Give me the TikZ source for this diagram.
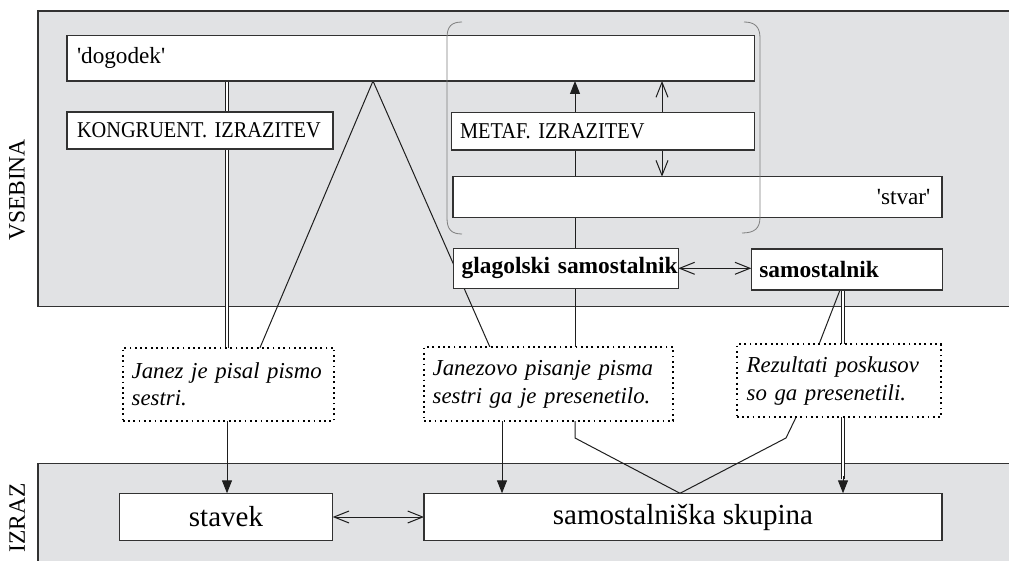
\documentclass[tikz,border=0pt]{standalone}
\usepackage{fontspec}
\setmainfont{Liberation Serif}
\newfontfamily\qf{Liberation Serif}
\newfontfamily\capsf{Liberation Serif}[FakeStretch=0.9]
\usetikzlibrary{arrows.meta}
\definecolor{regfill}{RGB}{225,226,228}
\definecolor{boxc}{RGB}{50,50,50}
\definecolor{linec}{RGB}{30,30,30}
\definecolor{brkc}{RGB}{125,125,125}
\pgfdeclarelayer{back}
\pgfdeclarelayer{mid}
\pgfdeclarelayer{front}
\pgfsetlayers{back,mid,main,front}
\begin{document}
\begin{tikzpicture}[x=1pt,y=-1pt,
  region/.style={draw=boxc, fill=regfill, line width=1.1pt},
  lab/.style={rotate=90, font=\fontsize{23.5}{28}\selectfont, inner sep=0pt},
  box/.style={draw=boxc, fill=white, line width=1.1pt, inner sep=0pt, outer sep=0pt, anchor=north west},
  dbox/.style={draw=black, fill=white, line width=1.8pt, dash pattern=on 1.8pt off 3.5pt, inner sep=0pt, outer sep=0pt, anchor=north west},
  conn/.style={draw=linec, line width=1pt},
  dbl/.style={draw=linec, line width=0.8pt, double=white, double distance=1.6pt},
  fa/.style={-{Triangle[length=13pt,width=10pt]}},
  oa/.style={-{Straight Barb[length=15pt,width=12pt]}},
  oaa/.style={{Straight Barb[length=15pt,width=12pt]}-{Straight Barb[length=15pt,width=12pt]}},
  brk/.style={draw=brkc, line width=0.8pt},
  caps/.style={font=\capsf\fontsize{22.6}{26}\selectfont},
  low/.style={font=\fontsize{23.2}{27}\selectfont},
  bld/.style={font=\fontsize{23.4}{28}\selectfont\bfseries},
  itl/.style={font=\fontsize{22.8}{27.8}\selectfont\itshape},
  big/.style={font=\fontsize{29}{34}\selectfont}
]
\useasboundingbox (0,0) rectangle (1009,561);
\clip (0,0) rectangle (1009,561);

\begin{pgfonlayer}{back}
\draw[region] (38,11) rectangle (1015,306.7);
\draw[region] (38,463.3) rectangle (1015,570);
\end{pgfonlayer}

\node[lab] (vsebina) at (17,190) {VSEBINA};
\node[lab] (izraz) at (17,518) {IZRAZ};

% boxes
\node[box, low, minimum width=687.3pt, minimum height=45.3pt, text width=667.3pt, align=left] (dogodek) at (67,35.7) {\mbox{{\qf'}dogodek{\qf'}}};
\node[box, caps, minimum width=266pt, minimum height=37pt, text width=246pt, align=left] (kongr) at (67,112) {\mbox{KONGRUENT. IZRAZITEV}};
\node[box, caps, minimum width=302.6pt, minimum height=37.3pt, text width=286pt, align=left] (metaf) at (451.7,112.7) {\mbox{METAF. IZRAZITEV}};
\node[box, low, minimum width=489pt, minimum height=40.6pt, text width=465.8pt, align=right] (stvar) at (453,176.7) {\mbox{{\qf'}stvar{\qf'}}};
\node[box, bld, minimum width=225pt, minimum height=40pt, text width=208.2pt, align=left] (glag) at (453.3,248.3) {\mbox{glagolski samostalnik}};
\node[box, bld, minimum width=191pt, minimum height=41pt, text width=175pt, align=left] (samost) at (751.3,249) {\mbox{samostalnik}};

\node[dbox, itl, minimum width=211.6pt, minimum height=73pt, text width=193.6pt, align=left] (janez) at (122.7,347.7) {Janez je pisal pismo\\sestri.};
\node[dbox, itl, minimum width=249.3pt, minimum height=73.4pt, text width=231.9pt, align=left] (janezovo) at (424,347.3) {Janezovo pisanje pisma\\sestri ga je presenetilo.};
\node[dbox, itl, minimum width=204pt, minimum height=73pt, text width=184pt, align=left] (rezult) at (736.7,344.3) {Rezultati poskusov\\so ga presenetili.};

\node[box, big, minimum width=213.4pt, minimum height=47.4pt] (stavek) at (119.3,493.3) {stavek};
\node[box, big, minimum width=518pt, minimum height=47.4pt] (skupina) at (424,493.3) {samostalniška skupina};

% helper coordinates
\coordinate (xk) at (227,0);
\coordinate (xa) at (373,0);
\coordinate (xl) at (260,0);
\coordinate (xr) at (490,0);
\coordinate (xm) at (575,0);
\coordinate (xo) at (662,0);
\coordinate (xs) at (843,0);
\coordinate (xs2) at (840,0);
\coordinate (xz) at (819,0);
\coordinate (xj) at (502,0);
\coordinate (xmid) at (680,0);
\coordinate (xrb) at (796,0);
\coordinate (k1) at (575,438);
\coordinate (k2) at (786,438);
\coordinate (xsa) at (843,476);

\begin{pgfonlayer}{mid}
\draw[dbl] (dogodek.south -| xk) -- (kongr.north -| xk);
\draw[dbl] (kongr.south -| xk) -- (janez.north -| xk);
\draw[conn, fa] (janez.south -| xk) -- (stavek.north -| xk);
\draw[conn] (janez.north -| xl) -- (dogodek.south -| xa) -- (janezovo.north -| xr);
\draw[conn, fa] (metaf.north -| xm) -- (dogodek.south -| xm);
\draw[conn] (metaf.south -| xm) -- (stvar.north -| xm);
\draw[conn] (stvar.south -| xm) -- (glag.north -| xm);
\draw[conn] (glag.south -| xm) -- (janezovo.north -| xm);
\draw[conn, oa] (metaf.north -| xo) -- (dogodek.south -| xo);
\draw[conn, oa] (metaf.south -| xo) -- (stvar.north -| xo);
\draw[conn, oaa] (glag.east) -- (samost.west |- glag.east);
\draw[dbl] (samost.south -| xs) -- (rezult.north -| xs);
\draw[dbl, shorten >=14pt] (rezult.south -| xs) -- (skupina.north -| xs);
\draw[conn, fa] (xsa) -- (skupina.north -| xsa);
\draw[conn] (samost.south -| xs2) -- (rezult.north -| xz);
\draw[conn, fa] (janezovo.south -| xj) -- (skupina.north -| xj);
\draw[conn] (janezovo.south -| xm) -- (k1) -- (skupina.north -| xmid);
\draw[conn] (rezult.south -| xrb) -- (k2) -- (skupina.north -| xmid);
\draw[conn, oaa] (stavek.east) -- (skupina.west |- stavek.east);
\end{pgfonlayer}

\begin{pgfonlayer}{front}
\draw[brk] (462,22) .. controls (451,22) and (447,27) .. (447,38) -- (447,218) .. controls (447,229) and (451,234) .. (462,234);
\draw[brk] (744,22) .. controls (755,22) and (760,27) .. (760,38) -- (760,217) .. controls (760,228) and (755,233) .. (742,233);
\end{pgfonlayer}
\end{tikzpicture}
\end{document}
